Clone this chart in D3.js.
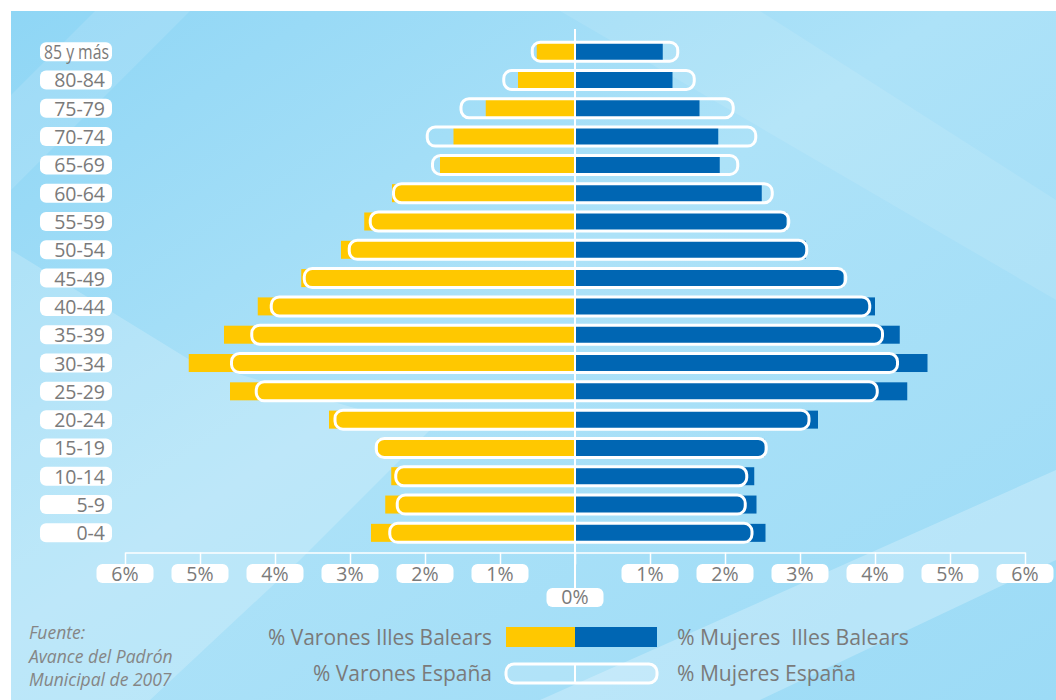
<!DOCTYPE html>
<html>
<head>
<meta charset="utf-8">
<script src="https://cdn.jsdelivr.net/npm/d3@7/dist/d3.min.js"></script>
<style>
  body { margin: 0; background: #fff; }
  svg { display: block; font-family: "Open Sans", sans-serif; }
</style>
</head>
<body>
<div id="pyramid"></div>
<script>
// Pirámide de población, Illes Balears vs España (%)
const ageGroups = ["85 y más", "80-84", "75-79", "70-74", "65-69", "60-64", "55-59", "50-54", "45-49",
    "40-44", "35-39", "30-34", "25-29", "20-24", "15-19", "10-14", "5-9", "0-4"];
const menBalears = [0.51, 0.76, 1.19, 1.62, 1.80, 2.44, 2.81, 3.12, 3.65, 4.23, 4.68, 5.15, 4.60, 3.28, 2.63, 2.45, 2.53, 2.72];
const menSpain = [0.57, 0.95, 1.52, 1.97, 1.90, 2.42, 2.73, 3.01, 3.61, 4.05, 4.31, 4.58, 4.25, 3.20, 2.65, 2.39, 2.37, 2.47];
const womenBalears = [1.17, 1.30, 1.66, 1.91, 1.93, 2.49, 2.82, 3.08, 3.58, 4.00, 4.33, 4.70, 4.43, 3.24, 2.53, 2.39, 2.42, 2.54];
const womenSpain = [1.37, 1.59, 2.11, 2.41, 2.17, 2.63, 2.85, 3.09, 3.61, 3.93, 4.10, 4.30, 4.03, 3.12, 2.55, 2.29, 2.27, 2.36];
const tickValues = [-6, -5, -4, -3, -2, -1, 0, 1, 2, 3, 4, 5, 6];
const legendLabels = ["% Varones Illes Balears", "% Mujeres  Illes Balears", "% Varones España", "% Mujeres España"];
const sourceLines = ["Fuente:", "Avance del Padrón", "Municipal de 2007"];

const canvasWidth = 1056;
const canvasHeight = 700;
const colors = { men: "#ffc800", women: "#0066b3", text: "#7a7a7a" };
const barHeight = 18;

const svg = d3.select("#pyramid")
    .append("svg")
    .attr("width", canvasWidth)
    .attr("height", canvasHeight);

const xScale = d3.scaleLinear().domain([-6, 6]).range([125, 1025]);
const yScale = d3.scaleBand().domain(ageGroups).range([37.5, 547]);

const rows = ageGroups.map((g, i) => ({
    group: g, menBal: menBalears[i], menEsp: menSpain[i], womenBal: womenBalears[i], womenEsp: womenSpain[i]
}));

// background panel
const defs = svg.append("defs");
const bg = defs.append("linearGradient").attr("id", "bg")
    .attr("x1", 0).attr("y1", 0).attr("x2", 1).attr("y2", 1);
bg.append("stop").attr("offset", "0%").attr("stop-color", "#8fd6f5");
bg.append("stop").attr("offset", "45%").attr("stop-color", "#ade2f8");
bg.append("stop").attr("offset", "100%").attr("stop-color", "#9cdbf6");

svg.append("rect")
    .attr("x", 11).attr("y", 11)
    .attr("width", canvasWidth - 11).attr("height", canvasHeight - 11)
    .attr("fill", "url(#bg)");

const streaks = [
    [[11, 95], [95, 11], [190, 11], [11, 190]],
    [[11, 250], [190, 360], [430, 430], [300, 560], [150, 700], [11, 700]],
    [[540, 700], [1056, 470], [1056, 560], [760, 700]],
    [[560, 11], [760, 11], [1056, 200], [1056, 300]]
];
svg.append("g").selectAll("polygon")
    .data(streaks)
    .join("polygon")
    .attr("points", d => d.map(p => p.join(",")).join(" "))
    .attr("fill", "#ffffff")
    .attr("opacity", (d, i) => [0.12, 0.2, 0.25, 0.1][i]);

// age labels
const labels = svg.append("g").attr("class", "age-labels");
labels.selectAll("rect")
    .data(ageGroups)
    .join("rect")
    .attr("x", 40).attr("width", 72)
    .attr("y", d => yScale(d) + yScale.bandwidth() / 2 - 9.5)
    .attr("height", 19).attr("rx", 6)
    .attr("fill", "#fff");
labels.selectAll("text")
    .data(ageGroups)
    .join("text")
    .attr("x", d => d === "85 y más" ? 44 : 105)
    .attr("y", d => yScale(d) + yScale.bandwidth() / 2 + 7.5)
    .attr("text-anchor", d => d === "85 y más" ? "start" : "end")
    .attr("font-size", 19.5)
    .attr("textLength", d => d === "85 y más" ? 65 : null)
    .attr("lengthAdjust", "spacingAndGlyphs")
    .attr("fill", colors.text)
    .text(d => d);

// bars
const bars = svg.append("g").attr("class", "bars");
const barY = d => yScale(d.group) + yScale.bandwidth() / 2 - barHeight / 2;

bars.selectAll(".men")
    .data(rows)
    .join("rect")
    .attr("class", "men")
    .attr("x", d => xScale(-d.menBal))
    .attr("y", barY)
    .attr("width", d => xScale(0) - 1 - xScale(-d.menBal))
    .attr("height", barHeight)
    .attr("fill", colors.men);

bars.selectAll(".women")
    .data(rows)
    .join("rect")
    .attr("class", "women")
    .attr("x", xScale(0) + 1)
    .attr("y", barY)
    .attr("width", d => xScale(d.womenBal) - xScale(0) - 1)
    .attr("height", barHeight)
    .attr("fill", colors.women);

// España outlines
bars.selectAll(".spain")
    .data(rows)
    .join("rect")
    .attr("class", "spain")
    .attr("x", d => xScale(-d.menEsp))
    .attr("y", d => yScale(d.group) + yScale.bandwidth() / 2 - 9.5)
    .attr("width", d => xScale(d.womenEsp) - xScale(-d.menEsp))
    .attr("height", 19)
    .attr("rx", 8)
    .attr("fill", "none")
    .attr("stroke", "#fff")
    .attr("stroke-width", 3);

// center line
svg.append("line")
    .attr("x1", xScale(0)).attr("x2", xScale(0))
    .attr("y1", 29).attr("y2", 590)
    .attr("stroke", "#fff")
    .attr("stroke-width", 2);

// x axis
const xAxis = d3.axisBottom(xScale).tickValues(tickValues).tickSize(12).tickSizeOuter(0).tickFormat("");
const axisG = svg.append("g")
    .attr("class", "x-axis")
    .attr("transform", "translate(0,552.5)")
    .call(xAxis);
axisG.select(".domain").attr("stroke", "#fff").attr("stroke-width", 1.5);
axisG.selectAll(".tick line").attr("stroke", "#fff").attr("stroke-width", 1.5);

const tickLabels = svg.append("g").attr("class", "tick-labels");
tickLabels.selectAll("rect")
    .data(tickValues)
    .join("rect")
    .attr("x", d => xScale(d) - 28.5)
    .attr("y", d => d === 0 ? 588 : 564)
    .attr("width", 57).attr("height", 19).attr("rx", 6)
    .attr("fill", "#fff");
tickLabels.selectAll("text")
    .data(tickValues)
    .join("text")
    .attr("x", d => xScale(d))
    .attr("y", d => d === 0 ? 603.5 : 580.5)
    .attr("text-anchor", "middle")
    .attr("font-size", 19.5)
    .attr("fill", colors.text)
    .text(d => Math.abs(d) + "%");

// legend
const legend = svg.append("g").attr("class", "legend");
legend.append("rect")
    .attr("x", 506).attr("y", 627).attr("width", xScale(0) - 506).attr("height", 20)
    .attr("fill", colors.men);
legend.append("rect")
    .attr("x", xScale(0)).attr("y", 627).attr("width", 657 - xScale(0)).attr("height", 20)
    .attr("fill", colors.women);
legend.append("rect")
    .attr("x", 506).attr("y", 664).attr("width", 151).attr("height", 19).attr("rx", 8)
    .attr("fill", "#fff").attr("fill-opacity", 0.15)
    .attr("stroke", "#fff").attr("stroke-width", 3);
legend.append("line")
    .attr("x1", xScale(0)).attr("x2", xScale(0))
    .attr("y1", 664).attr("y2", 683)
    .attr("stroke", "#fff").attr("stroke-width", 2);

const legendText = [
    { x: 492, y: 645, anchor: "end", w: 224 },
    { x: 677, y: 645, anchor: "start", w: 232 },
    { x: 492, y: 681, anchor: "end", w: 179 },
    { x: 677, y: 681, anchor: "start", w: 179 }
];
legend.selectAll("text")
    .data(legendLabels)
    .join("text")
    .attr("x", (d, i) => legendText[i].x)
    .attr("y", (d, i) => legendText[i].y)
    .attr("text-anchor", (d, i) => legendText[i].anchor)
    .attr("textLength", (d, i) => legendText[i].w)
    .attr("lengthAdjust", "spacingAndGlyphs")
    .attr("font-size", 21)
    .attr("fill", colors.text)
    .attr("xml:space", "preserve")
    .text(d => d);

// source
svg.append("g").attr("class", "source")
    .selectAll("text")
    .data(sourceLines)
    .join("text")
    .attr("x", 29)
    .attr("y", (d, i) => 639 + i * 23.5)
    .attr("font-size", 17.5)
    .attr("font-style", "italic")
    .attr("fill", "#858585")
    .text(d => d);
</script>
</body>
</html>
